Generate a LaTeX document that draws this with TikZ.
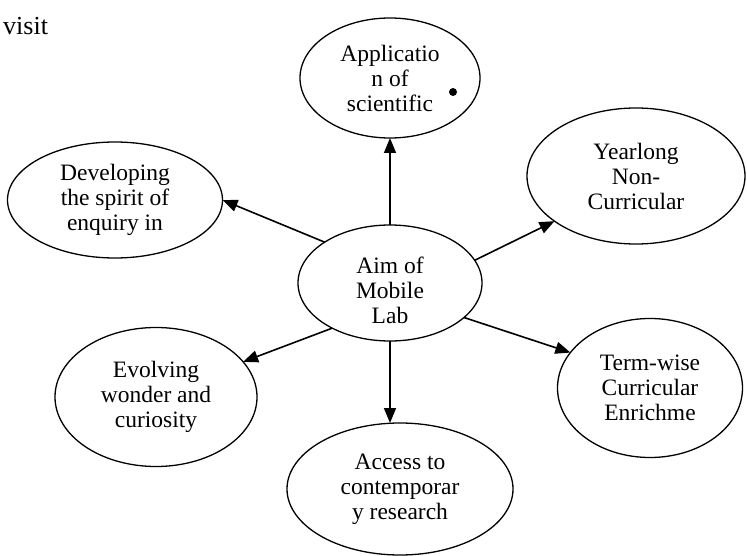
\documentclass[tikz,border=0pt]{standalone}
\usepackage{fontspec}
\setmainfont{Liberation Serif}
\usetikzlibrary{shapes.geometric,arrows.meta}
\begin{document}
\begin{tikzpicture}[x=1pt, y=-1pt,
    bubble/.style={draw, ellipse, line width=1.3pt, inner sep=0pt, outer sep=0pt, align=center, font=\fontsize{23.5}{25}\selectfont},
    arrow/.style={-{Triangle[length=15pt, width=12pt]}, line width=1.6pt}
]
    \useasboundingbox (0,0) rectangle (747,556);

    % Page text above the figure
    \node[anchor=base west, inner sep=0pt, font=\fontsize{26}{30}\selectfont] (visit) at (3,35) {visit};

    % Centre - aim
    \node[bubble, minimum width=184pt, minimum height=116pt] (aim) at (390,283) {};
    \node[align=center, inner sep=0pt, font=\fontsize{23.5}{25}\selectfont] (aimtext) at (390,290) {Aim of\\Mobile\\Lab};

    % Aims around it
    \node[bubble, minimum width=180pt, minimum height=120pt] (app) at (390,78) {Applicatio\\n of\\scientific};
    \node[bubble, minimum width=215pt, minimum height=116pt] (dev) at (115,200) {Developing\\the spirit of\\enquiry in};
    \node[bubble, minimum width=218pt, minimum height=136pt] (year) at (636,176) {Yearlong\\Non-\\Curricular};
    \node[bubble, minimum width=202pt, minimum height=139pt] (evo) at (156,397) {Evolving\\wonder and\\curiosity};
    \node[bubble, minimum width=185pt, minimum height=139pt] (term) at (650,388) {Term-wise\\Curricular\\Enrichme};
    \node[bubble, minimum width=226pt, minimum height=132pt] (acc) at (400,489) {Access to\\contemporar\\y research};

    % Stray mark in the top ellipse
    \fill (453,92) circle (4pt);

    % Arrows
    \draw[arrow] (aim.north) -- (app.south);
    \draw[arrow] (aim.148) -- (dev.east);
    \draw[arrow] (aim.15) -- (year.209);
    \draw[arrow] (aim.218) -- (evo.22);
    \draw[arrow] (aim.-25) -- (term.156);
    \draw[arrow] (aim.south) -- (aim.south |- acc.north);
\end{tikzpicture}
\end{document}
